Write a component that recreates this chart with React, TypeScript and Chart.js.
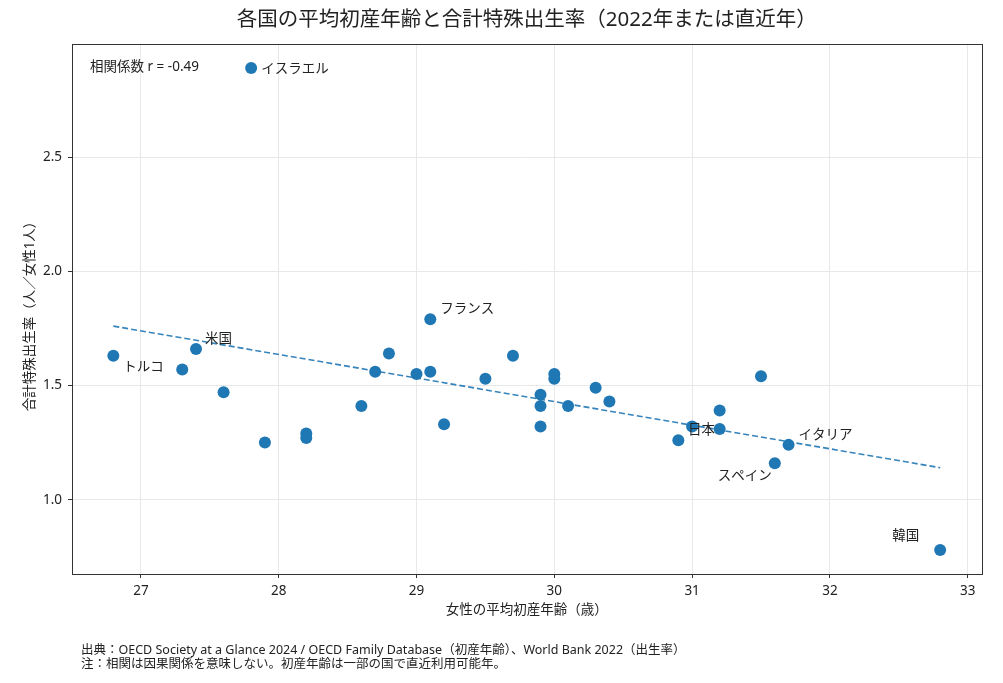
import React, { useEffect, useRef } from "react";
import { Chart, registerables } from "chart.js";

Chart.register(...registerables);

const FONT = '"Noto Sans", "Noto Sans CJK JP", sans-serif';

// 女性の平均初産年齢（歳）
const firstBirthAge = [
  26.8, 27.3, 27.4, 27.6, 27.8, 27.9, 28.2, 28.2, 28.6, 28.7, 28.8, 29.0, 29.1, 29.1, 29.2, 29.5, 29.7,
  29.9, 29.9, 29.9, 30.0, 30.0, 30.1, 30.3, 30.4, 30.9, 31.0, 31.2, 31.2, 31.5, 31.6, 31.7, 32.8,
];
// 合計特殊出生率
const fertilityRate = [
  1.63, 1.57, 1.66, 1.47, 2.89, 1.25, 1.29, 1.27, 1.41, 1.56, 1.64, 1.55, 1.56, 1.79, 1.33, 1.53, 1.63,
  1.46, 1.41, 1.32, 1.55, 1.53, 1.41, 1.49, 1.43, 1.26, 1.32, 1.39, 1.31, 1.54, 1.16, 1.24, 0.78,
];
// labelled countries only, "" = no label
const countryNames = [
  "トルコ", "", "米国", "", "イスラエル", "", "", "", "", "", "", "", "", "フランス", "", "", "",
  "", "", "", "", "", "", "", "", "", "日本", "", "", "", "スペイン", "イタリア", "韓国",
];

const xTicks = [27, 28, 29, 30, 31, 32, 33];
const yTicks = [1.0, 1.5, 2.0, 2.5];
const trendAge = [26.8, 32.8];
const trendRate = [1.76, 1.14];
const correlation = -0.49;

const title = "各国の平均初産年齢と合計特殊出生率（2022年または直近年）";
const xTitle = "女性の平均初産年齢（歳）";
const yTitle = "合計特殊出生率（人／女性1人）";
const notes = [
  "出典：OECD Society at a Glance 2024 / OECD Family Database（初産年齢）、World Bank 2022（出生率）",
  "注：相関は因果関係を意味しない。初産年齢は一部の国で直近利用可能年。",
];

// label placement relative to the marker, in px
const labelOffset: Record<string, [number, number, CanvasTextAlign]> = {
  トルコ: [10, 11, "left"],
  米国: [9, -10, "left"],
  イスラエル: [10, 1, "left"],
  フランス: [10, -10, "left"],
  日本: [-4, 4, "left"],
  スペイン: [-3, 13, "right"],
  イタリア: [10, -10, "left"],
  韓国: [-21, -14, "right"],
};

const textPlugin = {
  id: "textPlugin",
  afterDatasetsDraw(chart: Chart) {
    const { ctx, chartArea, scales } = chart;
    const x = scales.x;
    const y = scales.y;
    ctx.save();
    ctx.fillStyle = "#222";
    ctx.font = `13.5px ${FONT}`;
    ctx.textBaseline = "middle";
    countryNames.forEach((name, i) => {
      if (!name) return;
      const [dx, dy, align] = labelOffset[name];
      ctx.textAlign = align;
      ctx.fillText(name, x.getPixelForValue(firstBirthAge[i]) + dx, y.getPixelForValue(fertilityRate[i]) + dy);
    });
    ctx.textAlign = "left";
    ctx.fillText(`相関係数 r = ${correlation.toFixed(2)}`, chartArea.left + 18, chartArea.top + 23);

    // frame
    ctx.strokeStyle = "#333";
    ctx.lineWidth = 1;
    ctx.strokeRect(
      Math.round(chartArea.left) + 0.5,
      Math.round(chartArea.top) + 0.5,
      Math.round(chartArea.right - chartArea.left),
      Math.round(chartArea.bottom - chartArea.top)
    );
    ctx.restore();
  },
  afterDraw(chart: Chart) {
    const { ctx, chartArea } = chart;
    const cx = (chartArea.left + chartArea.right) / 2;
    ctx.save();
    ctx.fillStyle = "#222";
    ctx.textBaseline = "middle";
    ctx.textAlign = "center";
    ctx.font = `20.5px ${FONT}`;
    ctx.fillText(title, cx, 20);
    ctx.font = `13.5px ${FONT}`;
    ctx.fillText(xTitle, cx, 610);
    ctx.save();
    ctx.translate(30, (chartArea.top + chartArea.bottom) / 2 + 4);
    ctx.rotate(-Math.PI / 2);
    ctx.fillText(yTitle, 0, 0);
    ctx.restore();
    ctx.textAlign = "left";
    ctx.font = `12.5px ${FONT}`;
    ctx.fillText(notes[0], 81, 650);
    ctx.fillText(notes[1], 81, 664);
    ctx.restore();
  },
};

const App: React.FC = () => {
  const canvasRef = useRef<HTMLCanvasElement>(null);

  useEffect(() => {
    if (!canvasRef.current) return;
    const ctx = canvasRef.current.getContext("2d");
    if (!ctx) return;

    const chart = new Chart(ctx, {
      type: "scatter",
      data: {
        datasets: [
          {
            type: "line",
            label: "trend",
            data: trendAge.map((a, i) => ({ x: a, y: trendRate[i] })),
            borderColor: "rgba(31, 119, 180, 0.9)",
            borderWidth: 1.6,
            borderDash: [6, 3],
            pointRadius: 0,
            fill: false,
            order: 0,
          },
          {
            type: "scatter",
            label: "countries",
            data: firstBirthAge.map((a, i) => ({ x: a, y: fertilityRate[i] })),
            backgroundColor: "#1f77b4",
            borderWidth: 0,
            pointRadius: 6,
            order: 1,
          },
        ],
      },
      options: {
        responsive: false,
        animation: false,
        layout: { padding: { top: 44, right: 21.5, bottom: 87, left: 0 } },
        scales: {
          x: {
            type: "linear",
            min: 26.5,
            max: 33.1,
            afterBuildTicks: (s: any) => {
              s.ticks = xTicks.map((v) => ({ value: v }));
            },
            afterFit: (s: any) => {
              s.height = 22;
            },
            ticks: {
              font: { family: FONT, size: 13.5 },
              color: "#222",
              padding: 5,
              callback: (v: any) => String(v),
            },
            grid: { color: "#e8e8e8", tickColor: "#333", tickLength: 4 },
            border: { display: false },
          },
          y: {
            type: "linear",
            min: 0.6745,
            max: 2.9955,
            afterBuildTicks: (s: any) => {
              s.ticks = yTicks.map((v) => ({ value: v }));
            },
            afterFit: (s: any) => {
              s.width = 72;
            },
            ticks: {
              font: { family: FONT, size: 13.5 },
              color: "#222",
              padding: 6,
              callback: (v: any) => Number(v).toFixed(1),
            },
            grid: { color: "#e8e8e8", tickColor: "#333", tickLength: 4 },
            border: { display: false },
          },
        },
        plugins: {
          legend: { display: false },
          title: { display: false },
          tooltip: { enabled: false },
        },
      },
      plugins: [textPlugin],
    });

    return () => {
      chart.destroy();
    };
  }, []);

  return (
    <div style={{ position: "absolute", left: 0, top: 0, width: 1003, height: 683, background: "#fff" }}>
      <canvas ref={canvasRef} width={1003} height={683} style={{ width: 1003, height: 683 }} />
    </div>
  );
};

export default App;
